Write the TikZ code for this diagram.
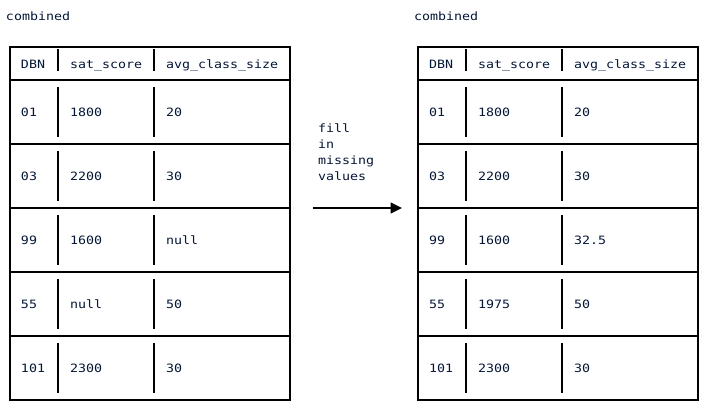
\documentclass[tikz,border=0pt]{standalone}
\usepackage{fontspec}
\newfontfamily\mono[FakeStretch=1.16]{DejaVu Sans Mono}
\usetikzlibrary{arrows.meta}
\definecolor{txt}{RGB}{5,22,55}
\begin{document}
\begin{tikzpicture}[x=0.75pt,y=-0.75pt,
  grid/.style={line width=1.5pt,black},
  cell/.style={anchor=base west,inner sep=0pt,outer sep=0pt,font=\mono\fontsize{8.6pt}{10pt}\selectfont,text=txt},
  flow/.style={line width=1.5pt,black,-{Triangle[length=8.5pt,width=8pt]}}]
\useasboundingbox (0,0) rectangle (706,415);
\fill[white] (0,0) rectangle (706,415);
\foreach \ox/\nm in {0/L,408/R}{
  \node[cell] (\nm-title) at (6+\ox,20) {combined};
  \draw[grid] (10+\ox,47) rectangle (290+\ox,400);
  \foreach \t in {80,144,208,272,336}{
    \draw[grid] (10+\ox,\t) -- (290+\ox,\t);
    \draw[grid] (58+\ox,\t+7) -- (58+\ox,\t+57);
    \draw[grid] (154+\ox,\t+7) -- (154+\ox,\t+57);
  }
  \draw[grid] (58+\ox,49) -- (58+\ox,71);
  \draw[grid] (154+\ox,49) -- (154+\ox,71);
  \node[cell] (\nm-h1) at (21+\ox,68) {DBN};
  \node[cell] (\nm-h2) at (70+\ox,68) {sat\_score};
  \node[cell] (\nm-h3) at (166+\ox,68) {avg\_class\_size};
}
\foreach [count=\i] \a/\b/\c in {01/1800/20,03/2200/30,99/1600/null,55/null/50,101/2300/30}{
  \node[cell] (L-\i a) at (21,52+64*\i) {\a};
  \node[cell] (L-\i b) at (70,52+64*\i) {\b};
  \node[cell] (L-\i c) at (166,52+64*\i) {\c};
}
\foreach [count=\i] \a/\b/\c in {01/1800/20,03/2200/30,99/1600/32.5,55/1975/50,101/2300/30}{
  \node[cell] (R-\i a) at (429,52+64*\i) {\a};
  \node[cell] (R-\i b) at (478,52+64*\i) {\b};
  \node[cell] (R-\i c) at (574,52+64*\i) {\c};
}
\node[cell] (f1) at (318,132) {fill};
\node[cell] (f2) at (318,148) {in};
\node[cell] (f3) at (318,164) {missing};
\node[cell] (f4) at (318,180) {values};
\coordinate (as) at (313,208);
\coordinate (ae) at (402,208);
\draw[flow] (as) -- (ae);
\end{tikzpicture}
\end{document}
